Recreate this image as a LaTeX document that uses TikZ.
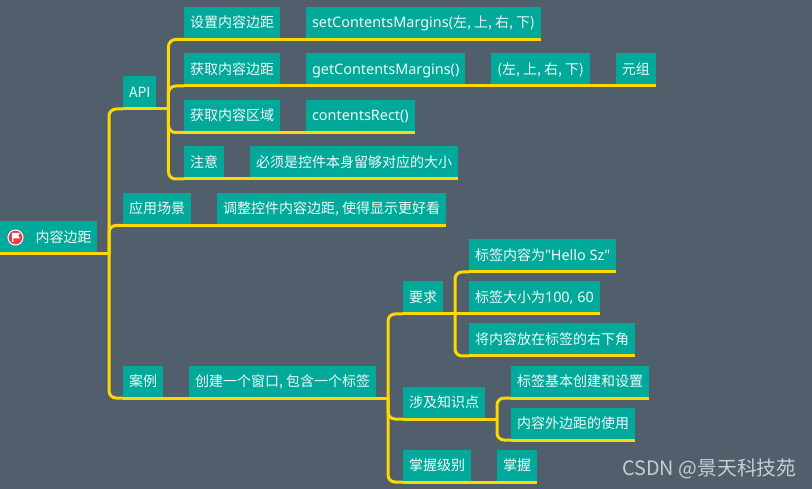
\documentclass[tikz,border=0pt]{standalone}
\usepackage{fontspec}
\setmainfont{Noto Sans CJK SC}
\newfontfamily\lat[Scale=1.03]{Noto Sans}
\usetikzlibrary{positioning, calc}
\definecolor{slatebg}{HTML}{505F6B}
\definecolor{topicteal}{HTML}{00A99A}
\definecolor{linkyellow}{HTML}{FFD800}
\definecolor{flagred}{HTML}{F0384A}
\definecolor{marktext}{HTML}{C9CDD0}

\begin{document}
\begin{tikzpicture}[
  x=1pt, y=-1pt,
  font=\fontsize{14}{17}\selectfont,
  topic/.style={fill=topicteal, text=white!95!topicteal, anchor=south west, minimum height=31pt,
    inner xsep=6pt, inner ysep=0pt, outer xsep=0pt, outer ysep=1.5pt, text height=13.5pt, text depth=3pt},
  next/.style={topic, anchor=west, right=26pt of #1},
  link/.style={draw=linkyellow, line width=3pt},
  bus/.style={link, rounded corners=7pt}
]
\path[fill=slatebg, use as bounding box] (0,0) rectangle (812,489);

% Root
\node[topic, minimum width=97pt, inner xsep=0pt] (root) at (0,254) {\hspace*{30pt}内容边距};
\node[circle, fill=flagred, draw=white, line width=1pt, minimum size=15pt, inner sep=0pt] (flag) at (15.5,237.5) {};
\fill[white] ($(flag.center)+(-3.5,-4.5)$) -- ++(8,0) -- ++(-1.7,2.7) -- ++(1.7,2.7) -- ++(-6.7,0) -- ++(0,3.6) -- ++(-1.3,0) -- cycle;

% First level
\node[topic] (api) at (123,109) {API};
\node[topic] (scene) at (123,225.5) {应用场景};
\node[next=scene] (sceneinfo) {调整控件内容边距, 使得显示更好看};
\node[topic] (case) at (123,398) {案例};
\node[next=case] (caseinfo) {创建一个窗口, 包含一个标签};

% API rows
\node[topic] (setm) at (184,39.5) {设置内容边距};
\node[next=setm] (setfn) {{\lat setContentsMargins(}左, 上, 右, 下)};
\node[topic] (getm) at (184,86) {获取内容边距};
\node[next=getm] (getfn) {{\lat getContentsMargins()}};
\node[next=getfn] (getret) {(左, 上, 右, 下)};
\node[next=getret] (gettype) {元组};
\node[topic] (rect) at (184,132.5) {获取内容区域};
\node[next=rect] (rectfn) {{\lat contentsRect()}};
\node[topic] (note) at (184,179) {注意};
\node[next=note] (noteinfo) {必须是控件本身留够对应的大小};

% Case rows
\node[topic] (need) at (403,314) {要求};
\node[topic] (need1) at (469,272) {标签内容为{\lat "Hello Sz"}};
\node[topic] (need2) at (469,314) {标签大小为{\lat 100, 60}};
\node[topic] (need3) at (469,356) {将内容放在标签的右下角};
\node[topic] (know) at (403,419) {涉及知识点};
\node[topic] (know1) at (511,398) {标签基本创建和设置};
\node[topic] (know2) at (511,440) {内容外边距的使用};
\node[topic] (level) at (403,482) {掌握级别};
\node[next=level] (levelinfo) {掌握};

% Underlines
\draw[link] (root.south west) -- (root.south east);
\draw[link] (scene.south west) -- (sceneinfo.south east);
\draw[link] (case.south west) -- (caseinfo.south east);
\draw[link] (api.south west) -- (api.south east);
\draw[link] (setm.south west) -- (setfn.south east);
\draw[link] (getm.south west) -- (gettype.south east);
\draw[link] (rect.south west) -- (rectfn.south east);
\draw[link] (note.south west) -- (noteinfo.south east);
\draw[link] (need.south west) -- (need2.south east);
\draw[link] (need1.south west) -- (need1.south east);
\draw[link] (need3.south west) -- (need3.south east);
\draw[link] (know.south west) -- (know.south east);
\draw[link] (know1.south west) -- (know1.south east);
\draw[link] (know2.south west) -- (know2.south east);
\draw[link] (level.south west) -- (levelinfo.south east);

% Trunks
\coordinate (rootbus) at ($(root.south east)+(12,0)$);
\coordinate (apibus) at ($(api.south east)+(12,0)$);
\coordinate (casebus) at ($(caseinfo.south east)+(12,0)$);
\coordinate (needbus) at ($(need.south east)+(12,0)$);
\coordinate (knowbus) at ($(know.south east)+(12,0)$);
\draw[link] (root.south east) -- (rootbus);
\draw[link] (api.south east) -- (apibus);
\draw[link] (caseinfo.south east) -- (casebus);
\draw[link] (know.south east) -- (knowbus);
\foreach \t in {api,scene,case} {
  \draw[bus] (rootbus) |- (\t.south west);
}
\foreach \t in {setm,getm,rect,note} {
  \draw[bus] (apibus) |- (\t.south west);
}
\foreach \t in {need,know,level} {
  \draw[bus] (casebus) |- (\t.south west);
}
\foreach \t in {need1,need3} {
  \draw[bus] (needbus) |- (\t.south west);
}
\foreach \t in {know1,know2} {
  \draw[bus] (knowbus) |- (\t.south west);
}

% Watermark
\node[text=marktext, anchor=east, font=\fontsize{19.8}{23}\selectfont] (mark) at (800,469) {CSDN @景天科技苑};
\end{tikzpicture}
\end{document}
